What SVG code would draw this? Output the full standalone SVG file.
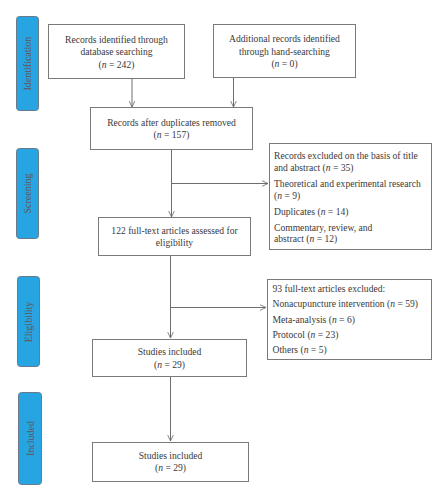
<svg xmlns="http://www.w3.org/2000/svg" width="448" height="500" viewBox="0 0 448 500">
<style>
.box{fill:#fff;stroke:#7a7a7a;stroke-width:1}
.side{fill:#27a4e2;stroke:#6a7a88;stroke-width:1}
.t{font-family:"Liberation Serif",serif;font-size:9.6px;fill:#3a3a3a}
.c{text-anchor:middle}
.st{font-family:"Liberation Serif",serif;font-size:10px;fill:#6a5252}
.ln{stroke:#6e6e6e;stroke-width:1;fill:none}
</style>
<defs>
<marker id="ah" viewBox="0 0 10 10" refX="9.5" refY="5" markerWidth="7" markerHeight="7" orient="auto" markerUnits="userSpaceOnUse">
<path d="M1,1 L9.5,5 L1,9" fill="none" stroke="#6e6e6e" stroke-width="1.2"/>
</marker>
</defs>
<g id="side-identification"><rect class="side" x="16.5" y="16.5" width="22" height="94" rx="3"/><text class="st" transform="translate(31,90.5) rotate(-90)">Identification</text></g>
<g id="side-screening"><rect class="side" x="16.5" y="148.5" width="22" height="90" rx="3"/><text class="st" transform="translate(31,213.5) rotate(-90)">Screening</text></g>
<g id="side-eligibility"><rect class="side" x="17.5" y="276.5" width="22" height="90" rx="3"/><text class="st" transform="translate(32,342.3) rotate(-90)">Eligibility</text></g>
<g id="side-included"><rect class="side" x="18.5" y="392.5" width="23" height="92" rx="3"/><text class="st" transform="translate(33.5,456) rotate(-90)">Included</text></g>

<g id="connectors">
<line class="ln" x1="132" y1="79" x2="132" y2="107" marker-end="url(#ah)"/>
<line class="ln" x1="233.5" y1="78" x2="233.5" y2="107" marker-end="url(#ah)"/>
<line class="ln" x1="171.5" y1="149" x2="171.5" y2="217" marker-end="url(#ah)"/>
<line class="ln" x1="171.5" y1="183.5" x2="268" y2="183.5" marker-end="url(#ah)"/>
<line class="ln" x1="170.5" y1="256" x2="170.5" y2="338" marker-end="url(#ah)"/>
<line class="ln" x1="170.5" y1="307.5" x2="266" y2="307.5" marker-end="url(#ah)"/>
<line class="ln" x1="170.5" y1="377" x2="170.5" y2="441" marker-end="url(#ah)"/>
</g>

<g id="n1"><rect class="box" x="48.5" y="24.5" width="136" height="54"/>
<text class="t c" x="116.5" y="42.5">Records identified through</text>
<text class="t c" x="116.5" y="55">database searching</text>
<text class="t c" x="116.5" y="67.5">(<tspan font-style="italic">n</tspan> = 242)</text></g>

<g id="n2"><rect class="box" x="213.5" y="24.5" width="142" height="53"/>
<text class="t c" x="284.5" y="42">Additional records identified</text>
<text class="t c" x="284.5" y="54.5">through hand-searching</text>
<text class="t c" x="284.5" y="67">(<tspan font-style="italic">n</tspan> = 0)</text></g>

<g id="n3"><rect class="box" x="90.5" y="107.5" width="162" height="42"/>
<text class="t c" x="171.5" y="126">Records after duplicates removed</text>
<text class="t c" x="171.5" y="138">(<tspan font-style="italic">n</tspan> = 157)</text></g>

<g id="n4"><rect class="box" x="269.5" y="143.5" width="162" height="106"/>
<text class="t" x="274" y="158.5">Records excluded on the basis of title</text>
<text class="t" x="274" y="170.5">and abstract (<tspan font-style="italic">n</tspan> = 35)</text>
<text class="t" x="274" y="186.5">Theoretical and experimental research</text>
<text class="t" x="274" y="198.5">(<tspan font-style="italic">n</tspan> = 9)</text>
<text class="t" x="274" y="214.5">Duplicates (<tspan font-style="italic">n</tspan> = 14)</text>
<text class="t" x="274" y="230.5">Commentary, review, and</text>
<text class="t" x="274" y="242">abstract (<tspan font-style="italic">n</tspan> = 12)</text></g>

<g id="n5"><rect class="box" x="98.5" y="217.5" width="152" height="38"/>
<text class="t c" x="174.5" y="233.5">122 full-text articles assessed for</text>
<text class="t c" x="174.5" y="245.5">eligibility</text></g>

<g id="n6"><rect class="box" x="267.5" y="279.5" width="164" height="80"/>
<text class="t" x="272.5" y="291.5">93 full-text articles excluded:</text>
<text class="t" x="272.5" y="307">Nonacupuncture intervention (<tspan font-style="italic">n</tspan> = 59)</text>
<text class="t" x="272.5" y="322.5">Meta-analysis (<tspan font-style="italic">n</tspan> = 6)</text>
<text class="t" x="272.5" y="337.5">Protocol (<tspan font-style="italic">n</tspan> = 23)</text>
<text class="t" x="272.5" y="352.5">Others (<tspan font-style="italic">n</tspan> = 5)</text></g>

<g id="n7"><rect class="box" x="92.5" y="339.5" width="154" height="37"/>
<text class="t c" x="169.5" y="355">Studies included</text>
<text class="t c" x="169.5" y="367.5">(<tspan font-style="italic">n</tspan> = 29)</text></g>

<g id="n8"><rect class="box" x="92.5" y="442.5" width="156" height="39"/>
<text class="t c" x="170.5" y="458.5">Studies included</text>
<text class="t c" x="170.5" y="470.5">(<tspan font-style="italic">n</tspan> = 29)</text></g>
</svg>
